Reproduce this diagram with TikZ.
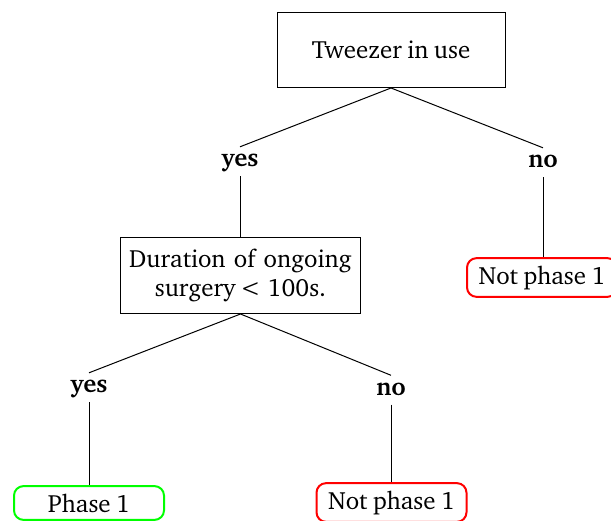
\documentclass[tikz,border=0pt]{standalone}
\usepackage[T1]{fontenc}
\usepackage{charter}
\newcommand{\fsz}{\fontsize{24.9}{28.7}\selectfont\spaceskip=0.22em plus 0.05em minus 0.03em\relax}
\begin{document}
\begin{tikzpicture}[x=1pt,y=-1pt,
  box/.style={draw,line width=1pt,align=center,font=\fsz},
  leaf/.style={draw,rounded corners=9.5pt,line width=2pt,inner sep=7.5pt,minimum width=150pt,font=\fsz},
  lab/.style={font=\fsz\bfseries,inner sep=0pt,text height=20pt,text depth=9pt,anchor=base},
  edge/.style={line width=1pt}]
\useasboundingbox (0,0) rectangle (611,521);
\node[box,minimum width=228pt,minimum height=75pt] (top) at (391,50) {Tweezer in use};
\node[lab] (y1) at (240,167) {yes};
\node[lab] (n1) at (543,168) {no};
\node[box,text width=225pt,minimum height=76pt,inner sep=7.5pt] (dur) at (240.5,275.5) {Duration of ongoing\\surgery\hspace{0.18em}<\hspace{0.28em}100s.};
\node[leaf,draw=red] (np1) at (542,277.5) {Not phase 1};
\node[lab] (y2) at (89,393) {yes};
\node[lab] (n2) at (391,395.5) {no};
\node[leaf,draw=green] (p1) at (89,503) {Phase 1};
\node[leaf,draw=red] (np2) at (391.5,502.5) {Not phase 1};
\draw[edge] (top.south) -- (y1.north);
\draw[edge] (top.south) -- (n1.north);
\draw[edge] (y1.south) -- (y1.south |- dur.north);
\draw[edge] (n1.south) -- (n1.south |- np1.north);
\draw[edge] (dur.south) -- (y2.north);
\draw[edge] (dur.south) -- (n2.north);
\draw[edge] (y2.south) -- (y2.south |- p1.north);
\draw[edge] (n2.south) -- (n2.south |- np2.north);
\end{tikzpicture}
\end{document}
